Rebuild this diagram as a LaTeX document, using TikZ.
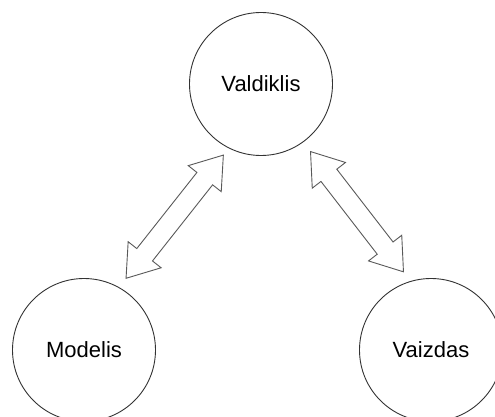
\documentclass[tikz,border=0pt]{standalone}
\usepackage{fontspec}
\setmainfont{Liberation Sans}
\begin{document}
\begin{tikzpicture}[x=1pt,y=-1pt,
  roundel/.style={circle,draw=black!80,line width=0.9pt,minimum size=143pt,inner sep=0pt,font=\fontsize{22}{26}\selectfont},
  arrowline/.style={draw=black!65,line width=0.9pt,line join=miter},
  pics/dblarrow/.style={code={
    \path[arrowline]
      ({#1/2},0) -- ({#1/2-30},21) -- ({#1/2-30},10) -- ({-#1/2+30},10)
      -- ({-#1/2+30},21) -- ({-#1/2},0) -- ({-#1/2+30},-21) -- ({-#1/2+30},-10)
      -- ({#1/2-30},-10) -- ({#1/2-30},-21) -- cycle;
  }}]
  \useasboundingbox (0,0) rectangle (495,417);
  \clip (0,0) rectangle (495,417);
  \node[roundel] (valdiklis) at (261,84) {Valdiklis};
  \node[roundel] (modelis) at (84,350) {Modelis};
  \node[roundel] (vaizdas) at (431,350) {Vaizdas};
  % two-way links between the controller and the other parts
  \pic[rotate=51.7] (linkmv) at (174.7,216.7) {dblarrow=157};
  \pic[rotate=-52.3] (linkvv) at (357,211.7) {dblarrow=152};
\end{tikzpicture}
\end{document}
